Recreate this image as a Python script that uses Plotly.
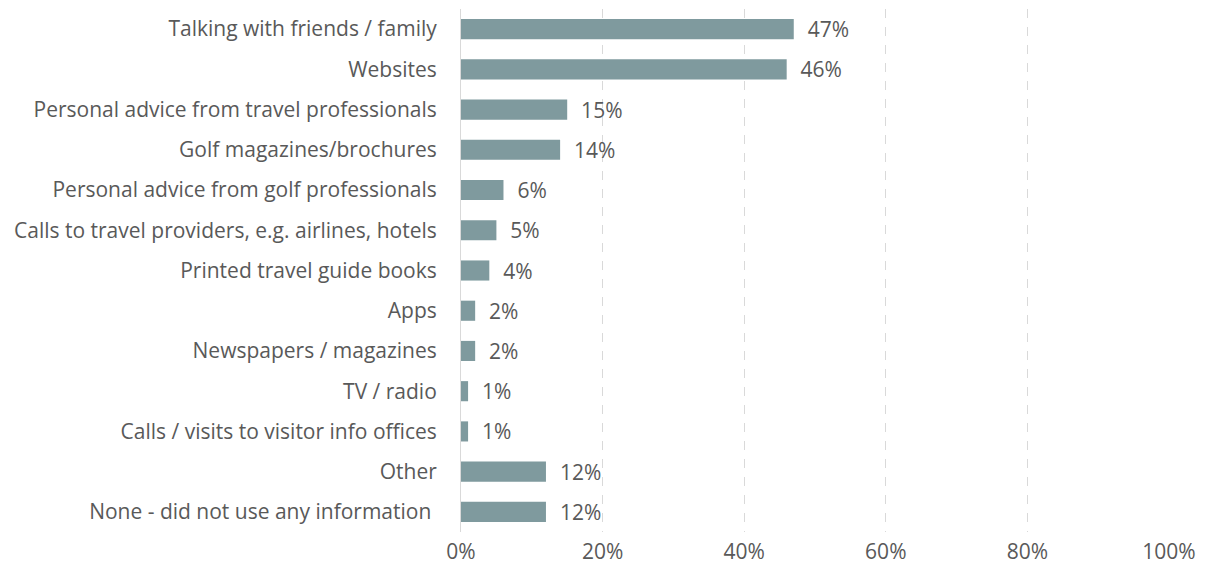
import plotly.graph_objects as go

categories = [
    "Talking with friends / family",
    "Websites",
    "Personal advice from travel professionals",
    "Golf magazines/brochures",
    "Personal advice from golf professionals",
    "Calls to travel providers, e.g. airlines, hotels",
    "Printed travel guide books",
    "Apps",
    "Newspapers / magazines",
    "TV / radio",
    "Calls / visits to visitor info offices",
    "Other",
    "None - did not use any information ",
]
values = [47, 46, 15, 14, 6, 5, 4, 2, 2, 1, 1, 12, 12]
tick_vals = [0, 20, 40, 60, 80, 100]
tick_text = ["0%", "20%", "40%", "60%", "80%", "100%"]

FONT = "Open Sans"
GREY = "#595959"
FS = 21

# page body has an 8px default margin, so the figure is offset by 8px
fig = go.Figure()
fig.add_trace(go.Bar(
    y=categories,
    x=values,
    orientation="h",
    marker=dict(color="#7F9A9E", line=dict(width=0)),
    text=[f"  {v}%" for v in values],
    textposition="outside",
    constraintext="none",
    textfont=dict(family=FONT, size=FS, color=GREY),
    cliponaxis=False,
    hoverinfo="skip",
))

fig.update_layout(
    width=1198, height=566,
    margin=dict(l=453, r=37, t=1, b=42, autoexpand=False),
    paper_bgcolor="white",
    plot_bgcolor="white",
    bargap=0.5,
    showlegend=False,
    font=dict(family=FONT, size=FS, color=GREY),
    xaxis=dict(
        range=[0, 100],
        tickvals=tick_vals,
        ticktext=tick_text,
        showgrid=True,
        gridcolor="#D9D9D9",
        griddash="dash",
        gridwidth=1,
        zeroline=False,
        showline=False,
        ticks="",
        automargin=False,
        ticklabelstandoff=5,
        tickfont=dict(family=FONT, size=FS, color=GREY),
        fixedrange=True,
    ),
    yaxis=dict(
        categoryorder="array",
        categoryarray=categories[::-1],
        showline=True,
        linecolor="#D9D9D9",
        linewidth=1,
        showgrid=False,
        ticks="",
        automargin=False,
        ticklabelstandoff=19,
        tickfont=dict(family=FONT, size=FS, color=GREY),
        fixedrange=True,
    ),
)

fig.write_html("out.html")
